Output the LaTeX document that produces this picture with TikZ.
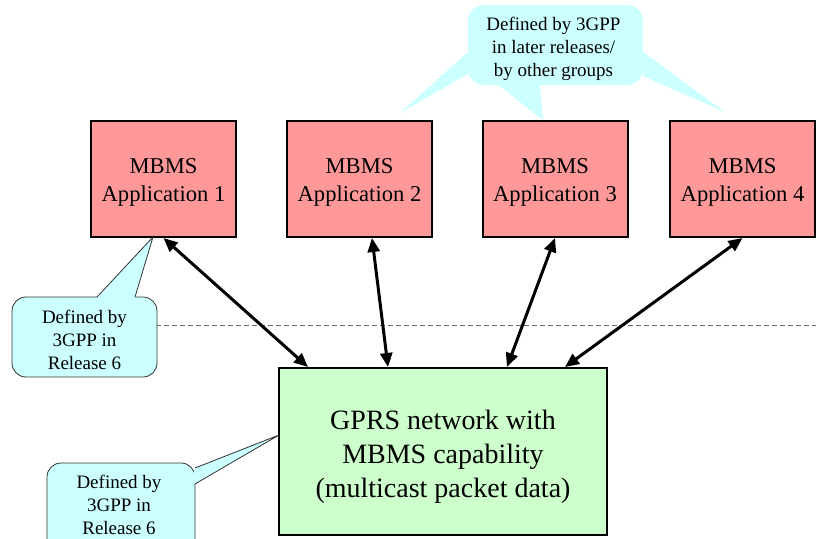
\documentclass[tikz,border=0pt]{standalone}
\usepackage{fontspec}
\setmainfont{Liberation Serif}
\usetikzlibrary{arrows.meta,calc}
\definecolor{appred}{HTML}{FF9999}
\definecolor{netgreen}{HTML}{CCFFCC}
\definecolor{callcyan}{HTML}{CCFFFF}
\begin{document}
\begin{tikzpicture}[x=1pt,y=-1pt,
  appbox/.style={draw=black,line width=2pt,fill=appred,minimum width=145pt,minimum height=116pt,inner sep=0pt},
  apptext/.style={align=center,inner sep=0pt,font=\fontsize{22.6}{28}\selectfont},
  netbox/.style={draw=black,line width=2pt,fill=netgreen,minimum width=328pt,minimum height=167pt,inner sep=0pt},
  nettext/.style={align=center,inner sep=0pt,font=\fontsize{28}{34}\selectfont},
  calltext/.style={align=center,inner sep=0pt,font=\fontsize{19}{23}\selectfont},
  callbody/.style={fill=callcyan,draw=black!80,line width=0.8pt,rounded corners=14pt},
  link/.style={line width=3pt,{Triangle[length=14pt,width=12pt]}-{Triangle[length=14pt,width=12pt]}},
  guide/.style={draw=black!60,line width=0.8pt,dash pattern=on 5pt off 3pt}]
\clip (0,0) rectangle (816,538);
\fill[white] (0,0) rectangle (816,538);

% dashed guide line
\coordinate (gl) at (84,325);
\coordinate (gr) at (816,325);
\draw[guide] (gl) -- (gr);

% application boxes
\node[appbox] (a1) at (163.5,179) {};
\node[appbox] (a2) at (359.5,179) {};
\node[appbox] (a3) at (555,179) {};
\node[appbox] (a4) at (742.5,179) {};
\node[apptext] (t1) at ([yshift=-3pt]a1.center) {MBMS\\Application 1};
\node[apptext] (t2) at ([yshift=-3pt]a2.center) {MBMS\\Application 2};
\node[apptext] (t3) at ([yshift=-3pt]a3.center) {MBMS\\Application 3};
\node[apptext] (t4) at ([yshift=-3pt]a4.center) {MBMS\\Application 4};

% network box
\node[netbox] (g) at (443,451.5) {};
\node[nettext] (gt) at ([yshift=-5pt]g.center) {GPRS network with\\MBMS capability\\(multicast packet data)};

% connectors
\draw[link] (a1.south) -- ([xshift=-135pt]g.north);
\draw[link] ([xshift=12.5pt]a2.south) -- ([xshift=-55pt]g.north);
\draw[link] (a3.south) -- ([xshift=64pt]g.north);
\draw[link] (a4.south) -- ([xshift=122pt]g.north);

% top callout (no outline)
\coordinate (q1) at (400,113);
\coordinate (q2) at (543,120);
\coordinate (q3) at (725,112);
\fill[callcyan] (468,52) -- (q1) -- (468,74) -- cycle;
\fill[callcyan] (497,84) -- (q2) -- (540,84) -- cycle;
\fill[callcyan] (643,52) -- (q3) -- (643,76) -- cycle;
\fill[callcyan,rounded corners=16pt] (468,5) rectangle (643,85);
\node[calltext] (ct) at (553.5,48.5) {Defined by 3GPP\\in later releases/\\by other groups};

% left callout 1
\coordinate (p1) at (153,237);
\draw[callbody] (12,297) rectangle (157,377);
\fill[callcyan] (97,298) -- (p1) -- (135,298) -- cycle;
\draw[black!80,line width=0.8pt,line join=miter] (97,297) -- (p1) -- (135,297);
\fill[callcyan] (98,296.2) rectangle (134,298.5);
\node[calltext] (c1) at (84.5,340) {Defined by\\3GPP in\\Release 6};

% left callout 2
\coordinate (p2) at (279,435);
\draw[callbody] (47,463) rectangle (195,560);
\fill[callcyan] (194,468) -- (p2) -- (194,484) -- cycle;
\draw[black!80,line width=0.8pt] (195,468) -- (p2) -- (195,484);
\fill[callcyan] (193.5,469) rectangle (195.8,483);
\node[calltext] (c2) at (119,504.5) {Defined by\\3GPP in\\Release 6};
\end{tikzpicture}
\end{document}
